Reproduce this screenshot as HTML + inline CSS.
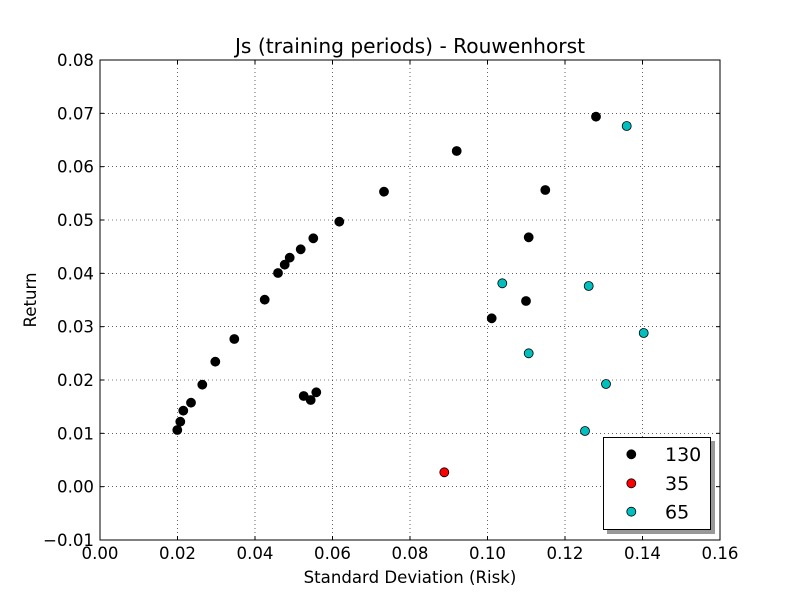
<!DOCTYPE html>
<html><head><meta charset="utf-8"><style>
html,body{margin:0;padding:0;background:#fff;}
svg{display:block;}
text{font-family:"DejaVu Sans","Liberation Sans",sans-serif;fill:#000;}
</style></head><body>
<svg width="800" height="600" viewBox="0 0 800 600" xmlns="http://www.w3.org/2000/svg">
<rect x="0" y="0" width="800" height="600" fill="#fff"/>
<rect x="100" y="60" width="620" height="480" fill="#fff"/>
<!-- grid -->
<g stroke="#000" stroke-width="0.6" stroke-dasharray="1,3" fill="none">
<line x1="177.5" y1="60" x2="177.5" y2="540"/>
<line x1="255" y1="60" x2="255" y2="540"/>
<line x1="332.5" y1="60" x2="332.5" y2="540"/>
<line x1="410" y1="60" x2="410" y2="540"/>
<line x1="487.5" y1="60" x2="487.5" y2="540"/>
<line x1="565" y1="60" x2="565" y2="540"/>
<line x1="642.5" y1="60" x2="642.5" y2="540"/>
<line x1="100" y1="113.33" x2="720" y2="113.33"/>
<line x1="100" y1="166.67" x2="720" y2="166.67"/>
<line x1="100" y1="220" x2="720" y2="220"/>
<line x1="100" y1="273.33" x2="720" y2="273.33"/>
<line x1="100" y1="326.67" x2="720" y2="326.67"/>
<line x1="100" y1="380" x2="720" y2="380"/>
<line x1="100" y1="433.33" x2="720" y2="433.33"/>
<line x1="100" y1="486.67" x2="720" y2="486.67"/>
</g>
<!-- ticks -->
<g stroke="#000" stroke-width="1">
<line x1="177.5" y1="540" x2="177.5" y2="536"/><line x1="177.5" y1="60" x2="177.5" y2="64"/>
<line x1="255" y1="540" x2="255" y2="536"/><line x1="255" y1="60" x2="255" y2="64"/>
<line x1="332.5" y1="540" x2="332.5" y2="536"/><line x1="332.5" y1="60" x2="332.5" y2="64"/>
<line x1="410" y1="540" x2="410" y2="536"/><line x1="410" y1="60" x2="410" y2="64"/>
<line x1="487.5" y1="540" x2="487.5" y2="536"/><line x1="487.5" y1="60" x2="487.5" y2="64"/>
<line x1="565" y1="540" x2="565" y2="536"/><line x1="565" y1="60" x2="565" y2="64"/>
<line x1="642.5" y1="540" x2="642.5" y2="536"/><line x1="642.5" y1="60" x2="642.5" y2="64"/>
<line x1="100" y1="113.33" x2="104" y2="113.33"/><line x1="720" y1="113.33" x2="716" y2="113.33"/>
<line x1="100" y1="166.67" x2="104" y2="166.67"/><line x1="720" y1="166.67" x2="716" y2="166.67"/>
<line x1="100" y1="220" x2="104" y2="220"/><line x1="720" y1="220" x2="716" y2="220"/>
<line x1="100" y1="273.33" x2="104" y2="273.33"/><line x1="720" y1="273.33" x2="716" y2="273.33"/>
<line x1="100" y1="326.67" x2="104" y2="326.67"/><line x1="720" y1="326.67" x2="716" y2="326.67"/>
<line x1="100" y1="380" x2="104" y2="380"/><line x1="720" y1="380" x2="716" y2="380"/>
<line x1="100" y1="433.33" x2="104" y2="433.33"/><line x1="720" y1="433.33" x2="716" y2="433.33"/>
<line x1="100" y1="486.67" x2="104" y2="486.67"/><line x1="720" y1="486.67" x2="716" y2="486.67"/>
</g>
<!-- points black -->
<g fill="#000" stroke="#000" stroke-width="0.8">
<circle cx="596" cy="116.7" r="4.5"/>
<circle cx="456.7" cy="151" r="4.5"/>
<circle cx="384" cy="191.7" r="4.5"/>
<circle cx="545.3" cy="190" r="4.5"/>
<circle cx="339.3" cy="221.7" r="4.5"/>
<circle cx="528.7" cy="237.3" r="4.5"/>
<circle cx="313.3" cy="238.3" r="4.5"/>
<circle cx="300.7" cy="249.3" r="4.5"/>
<circle cx="289.7" cy="257.7" r="4.5"/>
<circle cx="284.7" cy="264.7" r="4.5"/>
<circle cx="278" cy="273" r="4.5"/>
<circle cx="264.7" cy="299.7" r="4.5"/>
<circle cx="526" cy="301" r="4.5"/>
<circle cx="491.7" cy="318.3" r="4.5"/>
<circle cx="234.3" cy="339" r="4.5"/>
<circle cx="215.3" cy="361.7" r="4.5"/>
<circle cx="202.3" cy="384.7" r="4.5"/>
<circle cx="191" cy="402.7" r="4.5"/>
<circle cx="183.3" cy="410.7" r="4.5"/>
<circle cx="180.3" cy="421.7" r="4.5"/>
<circle cx="177.3" cy="430" r="4.5"/>
<circle cx="303.7" cy="396" r="4.5"/>
<circle cx="316.3" cy="392.3" r="4.5"/>
<circle cx="310.7" cy="400" r="4.5"/>
</g>
<g fill="#ff0000" stroke="#000" stroke-width="0.8">
<circle cx="444.3" cy="472.3" r="4.5"/>
</g>
<g fill="#00bfbf" stroke="#000" stroke-width="0.8">
<circle cx="626.7" cy="126" r="4.5"/>
<circle cx="502.3" cy="283.3" r="4.5"/>
<circle cx="588.7" cy="286" r="4.5"/>
<circle cx="643.7" cy="333" r="4.5"/>
<circle cx="528.7" cy="353.3" r="4.5"/>
<circle cx="606" cy="384" r="4.5"/>
<circle cx="585" cy="431" r="4.5"/>
</g>
<!-- axes frame -->
<rect x="100" y="60" width="620" height="480" fill="none" stroke="#000" stroke-width="1"/>
<!-- legend -->
<rect x="607" y="441" width="108" height="93" fill="#999"/>
<rect x="603.5" y="437.5" width="107" height="92" fill="#fff" stroke="#000" stroke-width="1"/>
<circle cx="631.3" cy="454.3" r="4.5" fill="#000" stroke="#000" stroke-width="0.8"/>
<circle cx="631.3" cy="483.3" r="4.5" fill="#ff0000" stroke="#000" stroke-width="0.8"/>
<circle cx="631.3" cy="511.7" r="4.5" fill="#00bfbf" stroke="#000" stroke-width="0.8"/>
<g font-size="19">
<text x="665" y="461">130</text>
<text x="665" y="490">35</text>
<text x="665" y="518.5">65</text>
</g>
<!-- tick labels -->
<g font-size="16.6" text-anchor="middle">
<text x="100" y="559">0.00</text>
<text x="177.5" y="559">0.02</text>
<text x="255" y="559">0.04</text>
<text x="332.5" y="559">0.06</text>
<text x="410" y="559">0.08</text>
<text x="487.5" y="559">0.10</text>
<text x="565" y="559">0.12</text>
<text x="642.5" y="559">0.14</text>
<text x="720" y="559">0.16</text>
</g>
<g font-size="16.6" text-anchor="end">
<text x="94" y="66">0.08</text>
<text x="94" y="119.3">0.07</text>
<text x="94" y="172.7">0.06</text>
<text x="94" y="226">0.05</text>
<text x="94" y="279.3">0.04</text>
<text x="94" y="332.7">0.03</text>
<text x="94" y="386">0.02</text>
<text x="94" y="439.3">0.01</text>
<text x="94" y="492.7">0.00</text>
<text x="94" y="546">−0.01</text>
</g>
<text x="410" y="583" font-size="16.6" text-anchor="middle">Standard Deviation (Risk)</text>
<text x="0" y="0" font-size="16.6" text-anchor="middle" transform="translate(36,300) rotate(-90)">Return</text>
<text x="410" y="53" font-size="20.2" text-anchor="middle">Js (training periods) - Rouwenhorst</text>
</svg>
</body></html>
